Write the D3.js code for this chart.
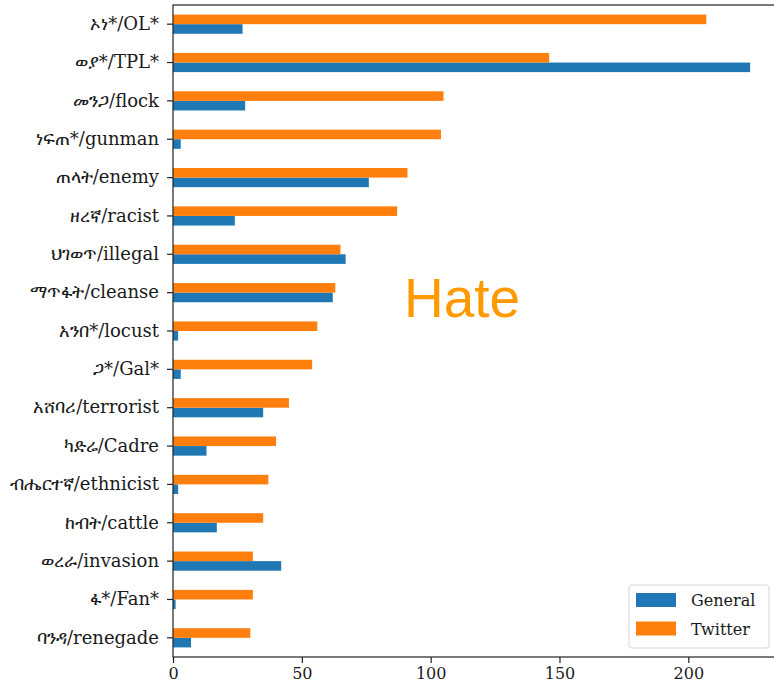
<!DOCTYPE html>
<html>
<head>
<meta charset="utf-8">
<script src="https://cdn.jsdelivr.net/npm/d3@7"></script>
<style>
  html, body { margin: 0; padding: 0; background: #fff; }
  svg { display: block; }
</style>
</head>
<body>
<div id="chart"></div>
<script>
var svgwidth = 774;
var svgheight = 689;

// data, top row first
var terms = ["ኦነ*/OL*", "ወያ*/TPL*", "መንጋ/flock", "ነፍጠ*/gunman", "ጠላት/enemy",
             "ዘረኛ/racist", "ህገወጥ/illegal", "ማጥፋት/cleanse", "አንበ*/locust", "ጋ*/Gal*",
             "አሸባሪ/terrorist", "ካድሬ/Cadre", "ብሔርተኛ/ethnicist", "ከብት/cattle",
             "ወረራ/invasion", "ፋ*/Fan*", "ባንዳ/renegade"];
var general = [27, 224, 28, 3, 76, 24, 67, 62, 2, 3, 35, 13, 2, 17, 42, 1, 7];
var twitter = [207, 146, 105, 104, 91, 87, 65, 63, 56, 54, 45, 40, 37, 35, 31, 31, 30];
var seriesNames = ["General", "Twitter"];
var seriesColors = ["#1f77b4", "#ff7f0e"];
var xTicks = [0, 50, 100, 150, 200];

// plot box (window.top is reserved, so no plain "top")
var plotLeft = 173, plotRight = 779, plotTop = 5, plotBottom = 657;
var font = "'DejaVu Serif', serif";

var svg = d3.select("#chart")
            .append("svg")
            .attr("width", svgwidth)
            .attr("height", svgheight);

var xscale = d3.scaleLinear()
                .domain([0, d3.max(general.concat(twitter)) * 1.05])
                .range([plotLeft, plotRight]);

var yscale = d3.scaleBand()
                .domain(terms)
                .range([plotTop, plotBottom])
                .padding(0);

// Twitter sits above General inside each band
var yinner = d3.scaleBand()
                .domain(["Twitter", "General"])
                .range([yscale.bandwidth() * 0.25, yscale.bandwidth() * 0.75]);

var rows = terms.map(function(t, i) {
    return {term: t, General: general[i], Twitter: twitter[i]};
});

var g = svg.append("g");

seriesNames.forEach(function(s, si) {
    g.append("g")
        .selectAll("rect")
        .data(rows)
        .join("rect")
        .attr("x", xscale(0))
        .attr("y", d => yscale(d.term) + yinner(s))
        .attr("width", d => xscale(d[s]) - xscale(0))
        .attr("height", yinner.bandwidth())
        .style("fill", seriesColors[si]);
});

// y axis
var yaxis = d3.axisLeft(yscale).tickSize(6).tickPadding(8);
var ya = svg.append("g")
    .attr("transform", "translate(" + plotLeft + ",0)")
    .call(yaxis);
ya.select(".domain").remove();
ya.selectAll("line").attr("stroke", "#222").attr("stroke-width", 1.2);
ya.selectAll("text")
    .style("font-family", font)
    .style("font-size", "18px")
    .attr("fill", "#1a1a1a");

// x axis
var xaxis = d3.axisBottom(xscale).tickValues(xTicks).tickSize(6).tickPadding(5);
var xa = svg.append("g")
    .attr("transform", "translate(0," + plotBottom + ")")
    .call(xaxis);
xa.select(".domain").remove();
xa.selectAll("line").attr("stroke", "#222").attr("stroke-width", 1.2);
xa.selectAll("text")
    .style("font-family", font)
    .style("font-size", "16px")
    .attr("fill", "#1a1a1a");

// frame
svg.append("rect")
    .attr("x", plotLeft)
    .attr("y", plotTop)
    .attr("width", plotRight - plotLeft)
    .attr("height", plotBottom - plotTop)
    .attr("fill", "none")
    .attr("stroke", "#222")
    .attr("stroke-width", 1.2);

// legend
var lg = svg.append("g").attr("transform", "translate(629,585)");
lg.append("rect")
    .attr("width", 140)
    .attr("height", 63)
    .attr("rx", 3)
    .attr("fill", "#fff")
    .attr("fill-opacity", 0.85)
    .attr("stroke", "#d6d6d6");
seriesNames.forEach(function(s, i) {
    lg.append("rect")
        .attr("x", 7)
        .attr("y", 8 + i * 28.5)
        .attr("width", 40)
        .attr("height", 14)
        .attr("fill", seriesColors[i]);
    lg.append("text")
        .attr("x", 62)
        .attr("y", 21 + i * 28.5)
        .style("font-family", font)
        .style("font-size", "16px")
        .attr("fill", "#1a1a1a")
        .text(s);
});

// overlay title
svg.append("text")
    .attr("x", 404)
    .attr("y", 317)
    .style("font-family", "'Liberation Sans', Arial, sans-serif")
    .style("font-size", "55px")
    .attr("fill", "#ff9900")
    .text("Hate");
</script>
</body>
</html>
